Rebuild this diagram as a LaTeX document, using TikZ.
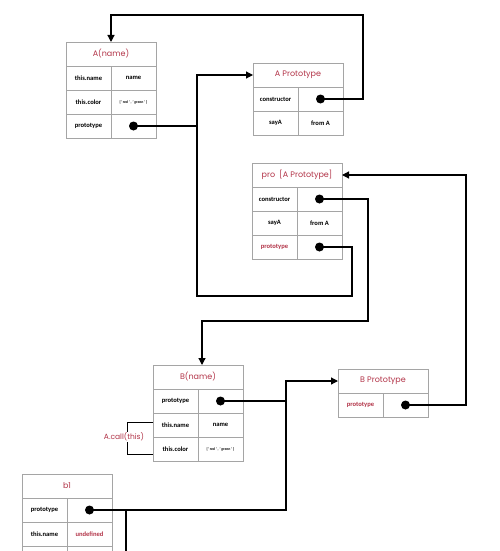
\documentclass[tikz,border=0pt]{standalone}
\usepackage{fontspec}
\setmainfont{Carlito}
\newfontfamily\headfont{Poppins}
\usetikzlibrary{positioning,arrows.meta}
\definecolor{boxgray}{RGB}{165,165,165}
\definecolor{redtxt}{RGB}{178,52,72}

\begin{document}
\begin{tikzpicture}[x=1pt, y=-1pt,
            % header of each object box
            head/.style={draw=boxgray, line width=0.8pt, minimum width=90pt, minimum height=24pt, inner sep=0pt, outer sep=0pt,
                         font=\headfont\fontsize{8}{9}\selectfont, text=redtxt},
            % one cell of a row
            cell/.style={draw=boxgray, line width=0.8pt, minimum width=45pt, minimum height=24pt, inner sep=0pt, outer sep=0pt,
                         font=\bfseries\fontsize{6.6}{8}\selectfont},
            redcell/.style={cell, text=redtxt},
            tiny/.style={cell, font=\bfseries\fontsize{3.8}{4}\selectfont},
            % connectors
            link/.style={line width=1.2pt},
            arr/.style={link, -{Triangle[length=7pt,width=7pt]}}
        ]
            \useasboundingbox (0,0) rectangle (500,551);
            \clip (0,0) rectangle (500,551);

            % --- A(name) ---
            \node[head, anchor=north west] (Ahead) at (66,42) {A(name)};
            \node[cell, below right=0pt and 0pt of Ahead.south west] (Arow1) {this.name};
            \node[cell, right=0pt of Arow1] (Aval1) {name};
            \node[cell, below=0pt of Arow1] (Arow2) {this.color};
            \node[tiny, right=0pt of Arow2] (Aval2) {[' red ' , ' green ' ]};
            \node[cell, below=0pt of Arow2] (Arow3) {prototype};
            \node[cell, right=0pt of Arow3] (Aval3) {};

            % --- A Prototype ---
            \node[head, anchor=north west] (APhead) at (253,63) {A Prototype};
            \node[cell, below right=0pt and 0pt of APhead.south west] (AProw1) {constructor};
            \node[cell, right=0pt of AProw1] (APval1) {};
            \node[cell, below=0pt of AProw1] (AProw2) {sayA};
            \node[cell, right=0pt of AProw2] (APval2) {from A};

            % --- pro [A Prototype] ---
            \node[head, anchor=north west] (Phead) at (252,163) {pro\ \ [A Prototype]};
            \node[cell, below right=0pt and 0pt of Phead.south west] (Prow1) {constructor};
            \node[cell, right=0pt of Prow1] (Pval1) {};
            \node[cell, below=0pt of Prow1] (Prow2) {sayA};
            \node[cell, right=0pt of Prow2] (Pval2) {from A};
            \node[redcell, below=0pt of Prow2] (Prow3) {prototype};
            \node[cell, right=0pt of Prow3] (Pval3) {};

            % --- B(name) ---
            \node[head, anchor=north west] (Bhead) at (153,365) {B(name)};
            \node[cell, below right=0pt and 0pt of Bhead.south west] (Brow1) {prototype};
            \node[cell, right=0pt of Brow1] (Bval1) {};
            \node[cell, below=0pt of Brow1] (Brow2) {this.name};
            \node[cell, right=0pt of Brow2] (Bval2) {name};
            \node[cell, below=0pt of Brow2] (Brow3) {this.color};
            \node[tiny, right=0pt of Brow3] (Bval3) {[' red ' , ' green ' ]};

            % --- B Prototype ---
            \node[head, anchor=north west] (BPhead) at (338,369) {B Prototype};
            \node[redcell, below right=0pt and 0pt of BPhead.south west] (BProw1) {prototype};
            \node[cell, right=0pt of BProw1] (BPval1) {};

            % --- b1 ---
            \node[head, anchor=north west] (bhead) at (22,474) {b1};
            \node[cell, below right=0pt and 0pt of bhead.south west] (brow1) {prototype};
            \node[cell, right=0pt of brow1] (bval1) {};
            \node[cell, below=0pt of brow1] (brow2) {this.name};
            \node[redcell, right=0pt of brow2] (bval2) {undefined};
            \node[cell, below=0pt of brow2] (brow3) {};
            \node[cell, right=0pt of brow3] (bval3) {};

            % bend points
            \coordinate (topR) at (363,15);
            \coordinate (loopR) at (352,296);
            \coordinate (loopL) at (197,296);
            \coordinate (midR) at (368,321);
            \coordinate (farR) at (466,300);
            \coordinate (bJoin) at (286,399);
            \coordinate (bDown) at (126,560);

            % pointer dots
            \foreach \v in {Aval3, APval1, Pval1, Pval3, Bval1, BPval1, bval1}
                \fill (\v.center) circle (4.5pt);

            % pointers
            \draw[arr] (APval1.center) -| (topR) -| (Ahead.north);
            \draw[link] (Aval3.center) -- (Aval3.center -| loopL);
            \draw[arr] (Pval3.center) -| (loopR) -- (loopL) |- (APhead.west);
            \draw[arr] (Pval1.center) -| (midR) -| ([xshift=4pt]Bhead.north);
            \draw[arr] (BPval1.center) -- (BPval1.center -| farR) |- (Phead.east);
            \draw[link] (Bval1.center) -- (Bval1.center -| bJoin);
            \draw[arr] (bval1.center) -| (bJoin) |- (BPhead.west);
            \draw[link] (bDown |- bval1.center) -- (bDown);

            % A.call(this) bracket
            \draw[line width=1pt] ([yshift=3pt]Brow2.west) -- ++(-26,0) |- ([yshift=-5pt]Brow3.west);
            \node[fill=white, inner sep=1pt, text=redtxt, font=\headfont\fontsize{7.5}{9}\selectfont] (callnote) at (124,437) {A.call(this)};

        \end{tikzpicture}
\end{document}
